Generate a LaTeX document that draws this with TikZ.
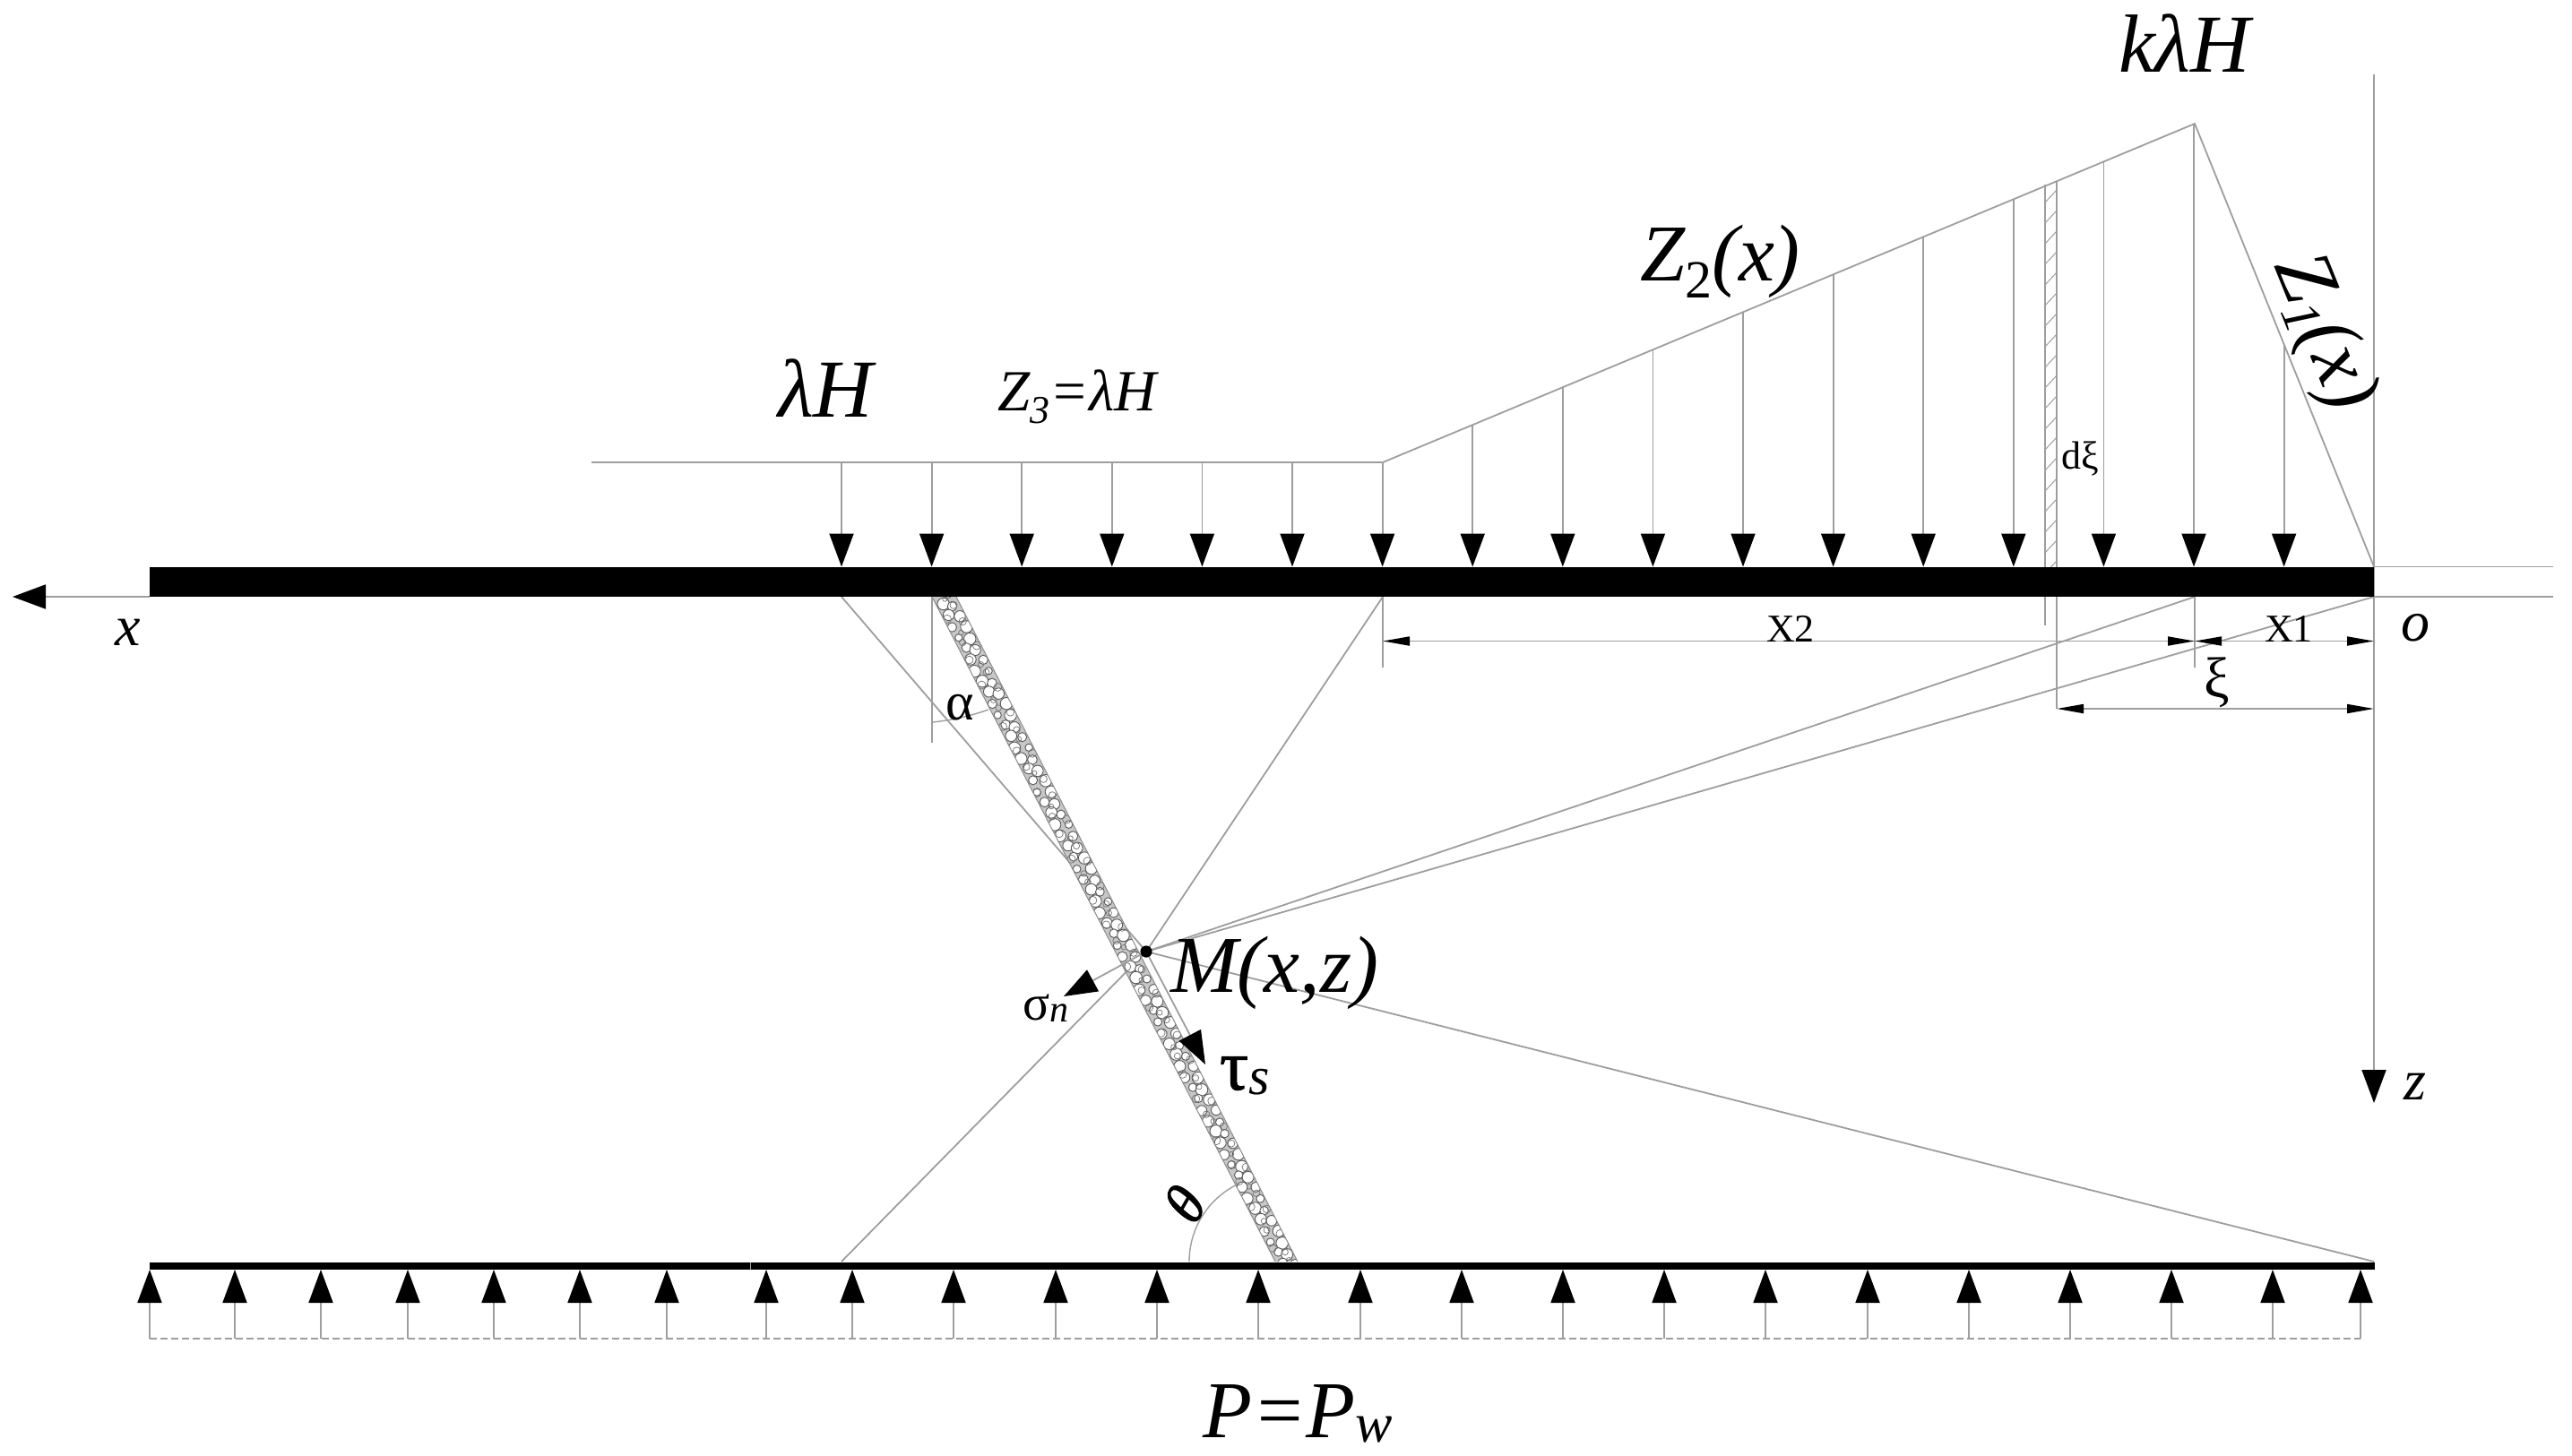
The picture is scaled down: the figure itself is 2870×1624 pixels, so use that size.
\documentclass[tikz,border=0pt]{standalone}
\usepackage{fontspec}
\setmainfont{Liberation Serif}
\newfontface\heavyitalic[FakeBold=1.3,FakeSlant=0.2]{Liberation Serif}
\newfontface\heavyroman[FakeBold=1.3]{Liberation Serif}
\usetikzlibrary{arrows.meta}
\newcommand{\sz}[1]{\fontsize{#1pt}{#1pt}\selectfont}
\newcommand{\subd}[3]{\raisebox{-#1pt}{\sz{#2}#3}}
\definecolor{ln}{gray}{0.62}
\tikzset{
  thinln/.style={draw=ln,line width=0.9pt},
  bigtip/.style={thinln,-{Triangle[width=13.5pt,length=18.5pt,color=black]}},
  smalltip/.style={thinln,{Triangle[width=5pt,length=15pt,color=black]}-{Triangle[width=5pt,length=15pt,color=black]}},
  txt/.style={inner sep=0pt,outer sep=0pt,anchor=base west,text=black}
}
\begin{document}
\begin{tikzpicture}[x=0.5pt,y=-0.5pt]
\useasboundingbox (0,0) rectangle (2870,1624);
\fill[white] (0,0) rectangle (2870,1624);
% key points
\coordinate (L0) at (660,516);
\coordinate (K) at (1543,516);
\coordinate (A) at (2449,138);
\coordinate (O) at (2649,632.5);
\coordinate (Ob) at (2649,666);
\coordinate (M) at (1279,1062);
\coordinate (B1) at (939,666);
\coordinate (B2) at (1543,666);
\coordinate (B3) at (2449,666);
\coordinate (L1) at (939,1408);
\coordinate (L2) at (2649,1408);
\coordinate (AxT) at (2649,83);
\coordinate (AxB) at (2649,1231);
\coordinate (XT) at (14,666);
\coordinate (XS) at (167,666);
\coordinate (R1) at (2849,632.5);
\coordinate (R2) at (2849,666);
% load outline
\draw[thinln] (L0) -- (K) -- (A) -- (O);
% axes
\draw[bigtip] (AxT) -- (AxB);
\draw[bigtip] (XS) -- (XT);
\draw[thinln] (O) -- (R1);
\draw[thinln] (Ob) -- (R2);
% lines from M
\draw[thinln] (B1) -- (M);
\draw[thinln] (B2) -- (M);
\draw[thinln] (B3) -- (M);
\draw[thinln] (Ob) -- (M);
\draw[thinln] (L2) -- (M);
\draw[thinln] (L1) -- (M);
% hatch strip
\begin{scope}
\clip (2282,206) -- (2295,203) -- (2295,633) -- (2282,633) -- cycle;
\foreach \h in {0,...,19}{
  \draw[draw=ln,line width=0.5pt] (2282,{640-\h*23}) -- (2295,{626-\h*23});
}
\end{scope}
\coordinate (H1a) at (2282,206);\coordinate (H1b) at (2282,698);
\coordinate (H2a) at (2295,203);\coordinate (H2b) at (2295,791);
\draw[thinln] (H1a) -- (H1b);
\draw[thinln] (H2a) -- (H2b);
% down arrows
\foreach \k in {0,...,16}{
  \pgfmathsetmacro{\xx}{939+100.6*\k}
  \pgfmathsetmacro{\yy}{\k<=6 ? 516 : (\k==16 ? 385 : 516-(\xx-1543)*0.41722)}
  \coordinate (dt\k) at (\xx,\yy);
  \coordinate (db\k) at (\xx,632.5);
  \draw[bigtip] (dt\k) -- (db\k);
}
% upper beam
\fill[black] (167,632.5) rectangle (2649,666);
% lower beam and seam
\fill[black] (167,1408.5) rectangle (2650,1417);
\draw[draw=ln,line width=0.4pt] (837,1408.5) -- (837,1417);
% dashed base
\coordinate (D1) at (167,1494);\coordinate (D2) at (2634,1494);
\draw[draw=ln,line width=0.8pt,dash pattern=on 4pt off 2pt] (D1) -- (D2);
\foreach \x [count=\n] in {167,262,358,455,551,647,744,855,951,1064,1178,1291,1404,1518,1631,1744,1857,1970,2084,2197,2310,2423,2536,2634}{
  \coordinate (ub\n) at (\x,1494);
  \coordinate (ut\n) at (\x,1417);
  \draw[bigtip] (ub\n) -- (ut\n);
}
% fault strip
\coordinate (S1) at (1040,666);\coordinate (S2) at (1067,666);
\coordinate (S3) at (1448,1408);\coordinate (S4) at (1423,1408);
\begin{scope}
\clip (S1) -- (S2) -- (S3) -- (S4) -- cycle;
\fill[black!22] (S1) -- (S2) -- (S3) -- (S4) -- cycle;
\foreach \i in {0,...,122}{
  \pgfmathsetmacro{\tt}{\i*6.9}
  \pgfmathsetmacro{\off}{(mod(\i,2)==0 ? 5.5 : -5.5)+2*sin(\i*131)}
  \pgfmathsetmacro{\rr}{2.0+1.4*abs(sin(\i*77))}
  \pgfmathsetmacro{\px}{1053+\tt*0.4587+\off*0.8886}
  \pgfmathsetmacro{\py}{666+\tt*0.8886-\off*0.4587}
  \draw[draw=black!65,fill=white,line width=0.45pt] (\px,\py) circle[radius=\rr pt];
}
\foreach \i in {0,...,80}{
  \pgfmathsetmacro{\tt}{\i*10.4+3}
  \pgfmathsetmacro{\off}{8*sin(\i*137)}
  \pgfmathsetmacro{\rr}{1.3+1.0*abs(sin(\i*43))}
  \pgfmathsetmacro{\px}{1053+\tt*0.4587+\off*0.8886}
  \pgfmathsetmacro{\py}{666+\tt*0.8886-\off*0.4587}
  \draw[draw=black!55,line width=0.35pt] (\px,\py) circle[radius=\rr pt];
}
\end{scope}
\draw[draw=black!45,line width=0.5pt] (S1) -- (S4);
\draw[draw=black!45,line width=0.5pt] (S2) -- (S3);
% point M and stress arrows
\coordinate (SigT) at (1187,1112);
\coordinate (TauT) at (1345,1188);
\draw[bigtip] (M) -- (SigT);
\draw[bigtip] (M) -- (TauT);
\fill[black] (M) circle[radius=3.3pt];
% angle alpha
\coordinate (Al0) at (1040,666);\coordinate (Al1) at (1040,829);
\coordinate (Ala) at (1040,806);\coordinate (Alb) at (1103,792);
\draw[thinln] (Al0) -- (Al1);
\draw[draw=ln,line width=0.7pt] (Ala) .. controls (1062,804) and (1083,799) .. (Alb);
% angle theta
\coordinate (Th0) at (1327,1408);
\draw[draw=ln,line width=0.7pt] (Th0) arc[start angle=180,end angle=242.7,radius=96];
% dimensions
\coordinate (Dx2a) at (1543,666);\coordinate (Dx2b) at (1543,745);
\coordinate (Dx3a) at (2449,666);\coordinate (Dx3b) at (2449,745);
\draw[thinln] (Dx2a) -- (Dx2b);
\draw[thinln] (Dx3a) -- (Dx3b);
\coordinate (d1) at (1543,715.5);\coordinate (d2) at (2449,715.5);\coordinate (d3) at (2649,715.5);
\coordinate (d4) at (2295,791);\coordinate (d5) at (2649,791);
\draw[smalltip] (d1) -- (d2);
\draw[smalltip] (d2) -- (d3);
\draw[smalltip] (d4) -- (d5);
% texts
\node[txt] (tkl) at (2364,80) {\sz{46}\itshape kλH};
\node[txt] (tlh) at (868,465) {\sz{46}\itshape λH};
\node[txt] (tz3) at (1113,458) {\sz{32.5}\itshape Z\subd{7}{22}{3}=λH};
\node[txt] (tz2) at (1830,313) {\sz{45}\itshape Z\subd{9.5}{30}{\upshape 2}(x\kern-1pt)};
\node[inner sep=0pt,rotate=-68,text=black] (tz1) at (2591,372) {\sz{45}\itshape Z\subd{6}{30}{1}(x)};
\node[txt] (tm) at (1306,1107) {\sz{45}\itshape M(x,z)};
\node[txt] (tp) at (1342,1604) {\sz{45}\itshape P=P\subd{2.5}{31}{w}};
\node[txt] (tsig) at (1141,1138) {\sz{28}σ\subd{1}{21}{\itshape n}};
\node[txt] (ttau) at (1361,1216) {\sz{40}\heavyroman τ\subd{2.5}{30}{\normalfont\itshape s}};
\node[txt] (talf) at (1055,803) {\sz{30}α};
\node[inner sep=0pt,rotate=60,text=black] (tth) at (1320,1347) {\sz{32}\heavyitalic θ};
\node[txt] (tx) at (128,720) {\sz{32}\itshape x};
\node[txt] (to) at (2679,715) {\sz{32}\itshape o};
\node[txt] (tzz) at (2682,1227) {\sz{32}\itshape z};
\node[txt] (tdx) at (2300,523) {\sz{22}dξ};
\node[txt] (txi) at (2459,778) {\sz{32}ξ};
\node[txt] (tx1) at (2527,716) {\sz{22}X1};
\node[txt] (tx2) at (1971,716) {\sz{22}X2};
\end{tikzpicture}
\end{document}
